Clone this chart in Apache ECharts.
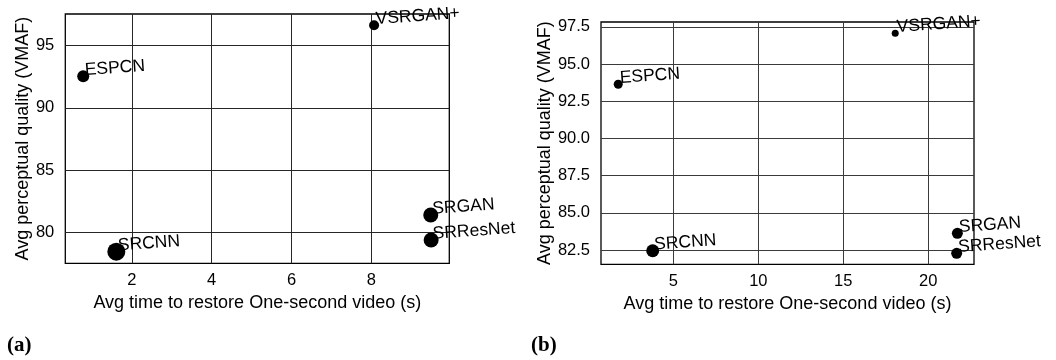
<!DOCTYPE html>
<html>
<head>
<meta charset="utf-8">
<script src="https://cdn.jsdelivr.net/npm/echarts@6/dist/echarts.min.js"></script>
<style>
html,body{margin:0;padding:0;background:#fff;}
#chart{width:1056px;height:360px;}
</style>
</head>
<body>
<div id="chart"></div>
<script>
// ---- data ----
const methods = ['VSRGAN+', 'ESPCN', 'SRCNN', 'SRGAN', 'SRResNet'];
// panel (a)
const timeA = [8.07, 0.78, 1.61, 9.49, 9.50];
const vmafA = [96.64, 92.54, 78.44, 81.39, 79.38];
// panel (b)
const timeB = [18.06, 1.75, 3.78, 21.72, 21.68];
const vmafB = [97.06, 93.64, 82.45, 83.62, 82.28];
// tick labels
const xTicksA = [2, 4, 6, 8];
const yTicksA = [80, 85, 90, 95];
const xTicksB = [5, 10, 15, 20];
const yTicksB = [82.5, 85.0, 87.5, 90.0, 92.5, 95.0, 97.5];
const xTitle = 'Avg time to restore One-second video (s)';
const yTitle = 'Avg perceptual quality (VMAF)';
const panelLabels = ['(a)', '(b)'];

// ---- styles ----
const markerSizeA = [10, 12, 18, 15, 15];
const markerSizeB = [7, 9, 13, 11, 11];
const FONT = "'Liberation Sans', Arial, sans-serif";

function pts(xs, ys, sizes) {
  return methods.map((m, i) => ({ name: m, value: [xs[i], ys[i]], symbolSize: sizes[i] }));
}

function xAxisCfg(idx, min, max, ticks, gridColor) {
  return {
    type: 'value', gridIndex: idx, min: min, max: max,
    name: xTitle, nameLocation: 'middle', nameGap: 28,
    nameTextStyle: { fontFamily: FONT, fontSize: 18, color: '#000' },
    axisLine: { show: false },
    axisTick: { show: false, customValues: ticks },
    axisLabel: { customValues: ticks, fontFamily: FONT, fontSize: 16.5, color: '#000', margin: 9 },
    splitLine: { show: true, lineStyle: { color: gridColor, width: 1 } }
  };
}
function yAxisCfg(idx, min, max, ticks, gridColor, gap, fmt) {
  return {
    type: 'value', gridIndex: idx, min: min, max: max,
    name: yTitle, nameLocation: 'middle', nameGap: gap,
    nameTextStyle: { fontFamily: FONT, fontSize: 18, color: '#000' },
    axisLine: { show: false },
    axisTick: { show: false, customValues: ticks },
    axisLabel: { customValues: ticks, fontFamily: FONT, fontSize: 16.5, color: '#000', margin: 11, formatter: fmt },
    splitLine: { show: true, lineStyle: { color: gridColor, width: 1 } }
  };
}
const labelCfg = {
  show: true, position: 'inside', align: 'left', verticalAlign: 'bottom',
  offset: [2, 3], rotate: 4, opacity: 1,
  formatter: p => p.name, fontFamily: FONT, fontSize: 17.5, color: '#000'
};

const chart = echarts.init(document.getElementById('chart'), null, { renderer: 'canvas' });
chart.setOption({
  animation: false,
  backgroundColor: '#fff',
  grid: [
    { left: 65.3, top: 14, width: 384, height: 249.3, show: true, borderColor: '#000', borderWidth: 1.3, backgroundColor: 'transparent' },
    { left: 601, top: 22, width: 373, height: 242.3, show: true, borderColor: '#000', borderWidth: 1.3, backgroundColor: 'transparent' }
  ],
  xAxis: [
    xAxisCfg(0, 0.331, 9.955, xTicksA, '#262626'),
    xAxisCfg(1, 0.736, 22.70, xTicksB, '#3a3a3a')
  ],
  yAxis: [
    yAxisCfg(0, 77.51, 97.55, yTicksA, '#262626', 31, v => String(v)),
    yAxisCfg(1, 81.54, 97.82, yTicksB, '#3a3a3a', 45, v => Number(v).toFixed(1))
  ],
  series: [
    { type: 'scatter', xAxisIndex: 0, yAxisIndex: 0, data: pts(timeA, vmafA, markerSizeA),
      itemStyle: { color: '#000', opacity: 1 }, label: labelCfg, emphasis: { disabled: true } },
    { type: 'scatter', xAxisIndex: 1, yAxisIndex: 1, data: pts(timeB, vmafB, markerSizeB),
      itemStyle: { color: '#000', opacity: 1 }, label: labelCfg, emphasis: { disabled: true } }
  ],
  graphic: [
    { type: 'text', left: 7, top: 335, style: { text: panelLabels[0], font: "bold 21px 'Liberation Serif', serif", fill: '#000' } },
    { type: 'text', left: 531, top: 335, style: { text: panelLabels[1], font: "bold 21px 'Liberation Serif', serif", fill: '#000' } }
  ]
});
</script>
</body>
</html>
